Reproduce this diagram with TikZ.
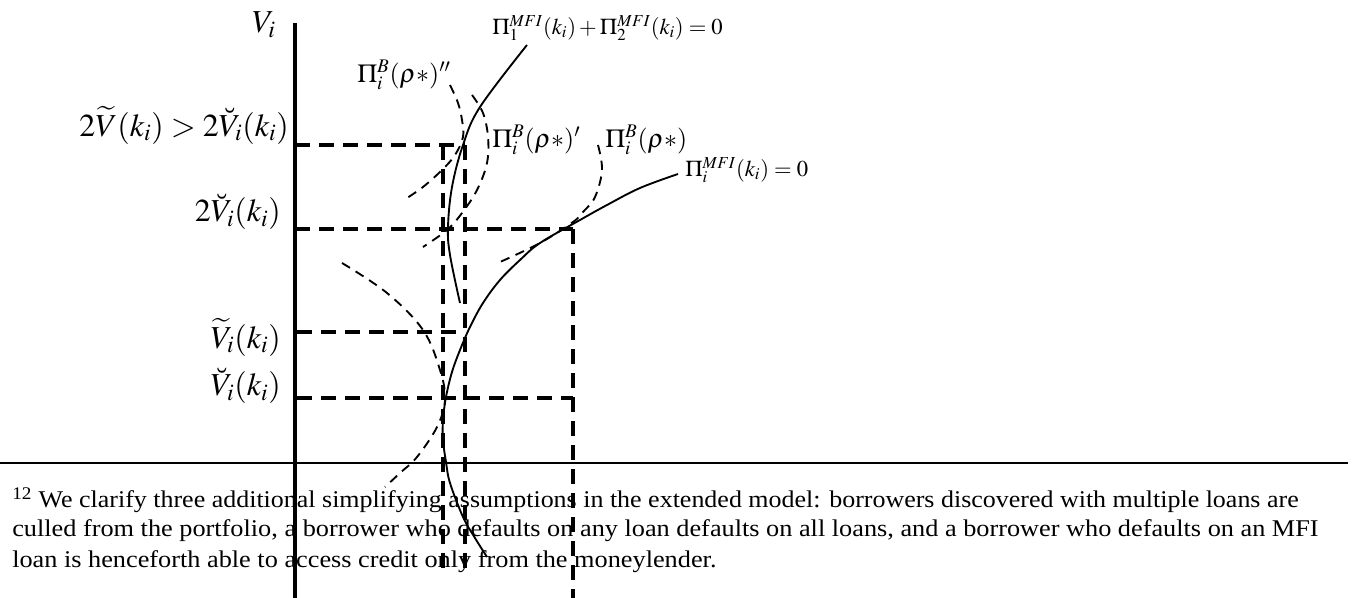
\documentclass[tikz,border=0pt]{standalone}
\usepackage{mathptmx}
\usepackage{fontspec}
\setmainfont{Liberation Serif}
\tikzset{
  axisv/.style={line width=3pt},
  axish/.style={line width=1.5pt},
  guide/.style={line width=3pt, dash pattern=on 11pt off 7pt},
  curve/.style={line width=1.4pt},
  icurve/.style={line width=1.4pt, dash pattern=on 7pt off 5pt},
  biglab/.style={inner sep=0pt, font=\fontsize{24}{28}\selectfont},
  midlab/.style={inner sep=0pt, font=\fontsize{19.5}{23}\selectfont},
  smalllab/.style={inner sep=0pt, font=\fontsize{17}{20}\selectfont},
  foot/.style={inner sep=0pt, anchor=base west, font=\fontsize{18}{22}\selectfont},
}
\newcommand{\footline}[2][1.095]{\scalebox{#1}[1]{#2}}
\begin{document}
\begin{tikzpicture}[x=0.75pt,y=-0.75pt]
\useasboundingbox (0,0) rectangle (1354,598);
% axes
\coordinate (ytop) at (295,23);
\coordinate (ybot) at (295,598);
\coordinate (xl) at (0,463);
\coordinate (xr) at (1348,463);
\draw[axisv] (ytop) -- (ybot);
\draw[axish] (xl) -- (xr);
% guide lines
\coordinate (h1a) at (295,145); \coordinate (h1b) at (465,145);
\coordinate (h2a) at (295,229); \coordinate (h2b) at (573,229);
\coordinate (h3a) at (297,332); \coordinate (h3b) at (465,332);
\coordinate (h4a) at (297,398); \coordinate (h4b) at (573,398);
\coordinate (v1a) at (443,145); \coordinate (v1b) at (443,577);
\coordinate (v2a) at (465,145); \coordinate (v2b) at (465,577);
\coordinate (v3a) at (573,229); \coordinate (v3b) at (573,598);
\draw[guide] (h1a) -- (h1b);
\draw[guide] (h2a) -- (h2b);
\draw[guide] (h3a) -- (h3b);
\draw[guide] (h4a) -- (h4b);
\draw[guide] (v1a) -- (v1b);
\draw[guide] (v2a) -- (v2b);
\draw[guide] (v3a) -- (v3b);
% solid curves
\draw[curve] plot[smooth, tension=0.6] coordinates {(527,45) (480,107) (463,145) (452,187) (448,227) (450,255) (460,303)};
\draw[curve] plot[smooth, tension=0.6] coordinates {(678,174) (640,188) (607,205) (580,220) (540,243) (520,260) (500,280) (483,303) (470,327) (460,350) (452,372) (446,397) (443,420) (443,440) (446,462) (450,483) (463,517) (475,538) (487,557)};
% dashed indifference curves
\draw[icurve] plot[smooth, tension=0.6] coordinates {(450,85) (458,103) (462,120) (463,137) (455,155) (442,170) (423,187) (407,198)};
\draw[icurve] plot[smooth, tension=0.6] coordinates {(472,95) (483,113) (488,137) (487,163) (477,190) (462,213) (447,230) (423,247)};
\draw[icurve] plot[smooth, tension=0.6] coordinates {(598,145) (602,170) (595,197) (583,212) (573,222) (540,243) (500,262)};
\draw[icurve] plot[smooth, tension=0.6] coordinates {(342,263) (387,293) (423,330) (440,370) (445,400) (437,427) (417,457) (400,473) (385,487)};
% labels
\node[biglab, anchor=east] (lVi) at (276,25) {$V_i$};
\node[biglab, anchor=east] (l2V) at (289,125) {$2\widetilde{V}(k_i) > 2\breve{V}_i(k_i)$};
\node[biglab, anchor=east] (l2Vb) at (281,212) {$2\breve{V}_i(k_i)$};
\node[biglab, anchor=east] (lVt) at (281,337) {$\widetilde{V}_i(k_i)$};
\node[biglab, anchor=east] (lVb) at (281,386) {$\breve{V}_i(k_i)$};
\node[smalllab, anchor=west] (lsum) at (492,28) {$\Pi_1^{MFI}(k_i)+\Pi_2^{MFI}(k_i)=0$};
\node[midlab, anchor=west] (lB2) at (357,75) {$\Pi_i^{B}(\rho{*})''$};
\node[midlab, anchor=west] (lB1) at (492,140) {$\Pi_i^{B}(\rho{*})'$};
\node[midlab, anchor=west] (lB0) at (605,140) {$\Pi_i^{B}(\rho{*})$};
\node[smalllab, anchor=west] (lmfi) at (685,170) {$\Pi_i^{MFI}(k_i)=0$};
% footnote
\node[foot] (f1) at (12,508) {\footline[1.082]{\textsuperscript{12} We clarify three additional simplifying assumptions in the extended model: borrowers discovered with multiple loans are}};
\node[foot] (f2) at (12,537) {\footline{culled from the portfolio, a borrower who defaults on any loan defaults on all loans, and a borrower who defaults on an MFI}};
\node[foot] (f3) at (12,567) {\footline{loan is henceforth able to access credit only from the moneylender.}};
\end{tikzpicture}
\end{document}
